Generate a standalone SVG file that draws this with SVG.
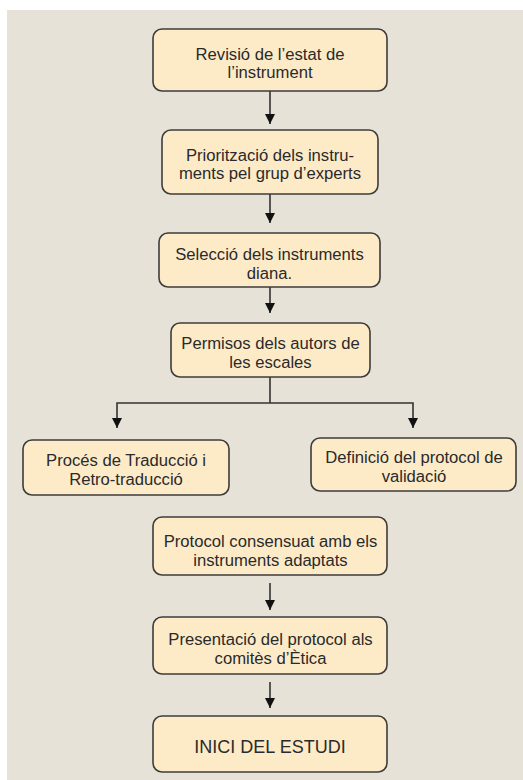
<svg xmlns="http://www.w3.org/2000/svg" width="523" height="780" viewBox="0 0 523 780">
<defs>
<style>
.box{fill:#fdebc8;stroke:#3c3c3c;stroke-width:1.6}
.t{font-family:"Liberation Sans",Arial,sans-serif;font-size:16px;fill:#2a2a2a;text-anchor:middle}
.big{font-size:18px}
.c{fill:none;stroke:#333;stroke-width:1.6}
</style>
<marker id="ah" viewBox="0 0 10 10" refX="10" refY="5" markerWidth="10" markerHeight="10" markerUnits="userSpaceOnUse" orient="auto-start-reverse">
<path d="M0,0 L10,5 L0,10 Z" fill="#111"/>
</marker>
</defs>
<rect x="0" y="0" width="523" height="780" fill="#ffffff"/>
<rect x="7" y="10" width="516" height="770" fill="#e6e2d7"/>
<g id="connectors">
<line class="c" x1="270" y1="91" x2="270" y2="124" marker-end="url(#ah)"/>
<line class="c" x1="270" y1="194" x2="270" y2="223" marker-end="url(#ah)"/>
<line class="c" x1="270" y1="287" x2="270" y2="313" marker-end="url(#ah)"/>
<polyline class="c" points="270,377 270,403"/>
<polyline class="c" points="117,428 117,403 413,403 413,428" marker-start="url(#ah)" marker-end="url(#ah)"/>
<line class="c" x1="270" y1="583" x2="270" y2="610" marker-end="url(#ah)"/>
<line class="c" x1="270" y1="682" x2="270" y2="708" marker-end="url(#ah)"/>
</g>
<g id="n1">
<rect class="box" x="153" y="29" width="234" height="62" rx="9"/>
<g transform="matrix(1.04 0 0 1 270 0)">
<text class="t" x="0" y="60">Revisió de l’estat de</text>
<text class="t" x="0" y="78.5">l’instrument</text>
</g>
</g>
<g id="n2">
<rect class="box" x="162" y="130" width="216" height="64" rx="9"/>
<g transform="matrix(1.04 0 0 1 270 0)">
<text class="t" x="0" y="161">Priorització dels instru-</text>
<text class="t" x="0" y="179.5">ments pel grup d’experts</text>
</g>
</g>
<g id="n3">
<rect class="box" x="159" y="233" width="221" height="54" rx="9"/>
<g transform="matrix(1.04 0 0 1 269.5 0)">
<text class="t" x="0" y="260.5">Selecció dels instruments</text>
<text class="t" x="0" y="279">diana.</text>
</g>
</g>
<g id="n4">
<rect class="box" x="171" y="323" width="199" height="54" rx="9"/>
<g transform="matrix(1.04 0 0 1 270.5 0)">
<text class="t" x="0" y="349.5">Permisos dels autors de</text>
<text class="t" x="0" y="368">les escales</text>
</g>
</g>
<g id="n5">
<rect class="box" x="23" y="440" width="206" height="55" rx="9"/>
<g transform="matrix(1.04 0 0 1 126 0)">
<text class="t" x="0" y="466.5">Procés de Traducció i</text>
<text class="t" x="0" y="485">Retro-traducció</text>
</g>
</g>
<g id="n6">
<rect class="box" x="311" y="438" width="205" height="53" rx="9"/>
<g transform="matrix(1.04 0 0 1 414 0)">
<text class="t" x="0" y="463.5">Definició del protocol de</text>
<text class="t" x="0" y="482">validació</text>
</g>
</g>
<g id="n7">
<rect class="box" x="153" y="517" width="234" height="58" rx="9"/>
<g transform="matrix(1.04 0 0 1 270.5 0)">
<text class="t" x="0" y="547">Protocol consensuat amb els</text>
<text class="t" x="0" y="566">instruments adaptats</text>
</g>
</g>
<g id="n8">
<rect class="box" x="153" y="617" width="234" height="57" rx="9"/>
<g transform="matrix(1.04 0 0 1 270.5 0)">
<text class="t" x="0" y="645">Presentació del protocol als</text>
<text class="t" x="0" y="664">comitès d’Ètica</text>
</g>
</g>
<g id="n9">
<rect class="box" x="153" y="716" width="234" height="56" rx="9"/>
<text class="t big" x="270" y="753">INICI DEL ESTUDI</text>
</g>
</svg>
